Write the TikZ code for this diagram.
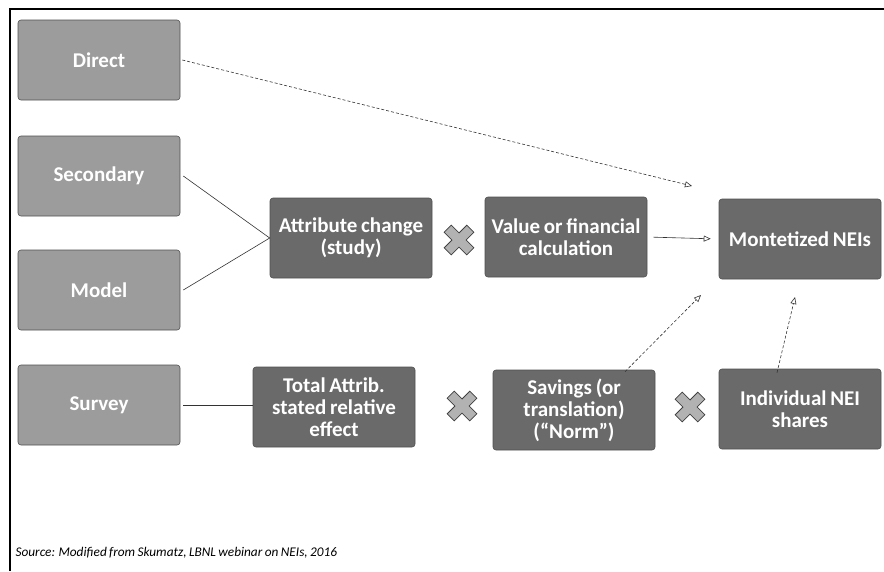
\documentclass[tikz,border=0pt]{standalone}
\usepackage{fontspec}
\setmainfont{Carlito}[WordSpace=0.8]
\usetikzlibrary{arrows.meta}
\definecolor{boxlight}{HTML}{9C9C9C}
\definecolor{boxdark}{HTML}{6A6A6A}
\definecolor{boxedge}{HTML}{505050}
\tikzset{
	srcbox/.style={draw=boxedge, fill=boxlight, rounded corners=3pt, line width=0.6pt,
		minimum width=162pt, minimum height=80pt, inner sep=2pt,
		text=white, font=\bfseries\fontsize{21}{22}\selectfont, align=flush center},
	calcbox/.style={srcbox, fill=boxdark, text width=158pt},
	link/.style={line width=0.6pt, black!80},
	flow/.style={link, dashed, dash pattern=on 3pt off 2pt, -{Triangle[open, length=7pt, width=6pt]}},
}
\newcommand{\timesmark}[2]{%
	\draw[fill=black!30, draw=black!75, line width=0.8pt, rotate around={45:(#1,#2)}]
		(#1-5,#2-16) -- (#1+5,#2-16) -- (#1+5,#2-5) -- (#1+16,#2-5) -- (#1+16,#2+5)
		-- (#1+5,#2+5) -- (#1+5,#2+16) -- (#1-5,#2+16) -- (#1-5,#2+5) -- (#1-16,#2+5)
		-- (#1-16,#2-5) -- (#1-5,#2-5) -- cycle;}
\begin{document}
\begin{tikzpicture}[x=1pt, y=-1pt]
			%%%%% START %%%%%
			\useasboundingbox (0,0) rectangle (884,571);
			
			\draw[line width=1.2pt] (10,571) -- (10,9) -- (884,9);
			
			% data sources
			\node[srcbox] (direct) at (99,60) {Direct};
			\node[srcbox] (secondary) at (99,176) {Secondary};
			\node[srcbox] (model) at (99,290) {Model};
			\node[srcbox] (survey) at (99,405) {Survey};
			
			% calculation steps
			\node[calcbox] (attrib) at (351,238) {Attribute change\\(study)};
			\node[calcbox] (value) at (566,237) {Value or financial\\calculation};
			\node[calcbox] (money) at (800,239) {Montetized NEIs};
			\node[calcbox] (total) at (334,407) {Total Attrib.\\stated relative\\effect};
			\node[calcbox] (savings) at (574,410) {Savings (or\\translation)\\(``Norm'')};
			\node[calcbox] (shares) at (800,409) {Individual NEI\\shares};
			
			\timesmark{459}{240}
			\timesmark{462}{406}
			\timesmark{690}{407}
			
			\coordinate (tipdirect) at (692,186);
			\coordinate (tipsave) at (701,295);
			\coordinate (tipshare) at (795,297);
			
			\draw[link] ([xshift=3pt]secondary.east) -- (attrib.west);
			\draw[link] ([xshift=3pt]model.east) -- (attrib.west);
			\draw[link] ([xshift=3pt]survey.east) -- (survey.east -| total.west);
			\draw[flow] ([xshift=2pt]direct.east) -- (tipdirect);
			\draw[link, -{Triangle[open, length=7pt, width=6pt]}, shorten >=8pt, shorten <=6pt] (value.east) -- (money.west);
			\draw[flow] ([xshift=51pt,yshift=-2pt]savings.north) -- (tipsave);
			\draw[flow] ([xshift=-23pt,yshift=-4pt]shares.north) -- (tipshare);
			
			\node[anchor=base west, font=\itshape\fontsize{13.3}{15}\selectfont] (source) at (12,556)
				{Source: Modified from Skumatz, LBNL webinar on NEIs, 2016};
			%%%%% END %%%%%
\end{tikzpicture}
\end{document}
